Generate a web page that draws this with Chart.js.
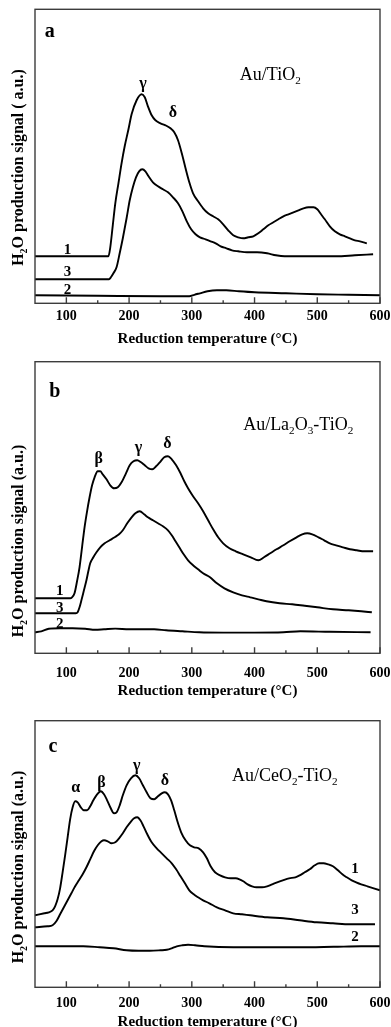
<!DOCTYPE html>
<html><head><meta charset="utf-8">
<script src="https://cdn.jsdelivr.net/npm/chart.js@4.4.0/dist/chart.umd.min.js"></script>
<style>
html,body{margin:0;padding:0;background:#fff;overflow:hidden;width:391px;height:1027px;}
canvas{position:absolute;left:0;display:block;}
</style></head><body>
<canvas id="ca" width="391" height="348" style="top:0px;width:391px;height:348px"></canvas>
<canvas id="cb" width="391" height="352" style="top:348px;width:391px;height:352px"></canvas>
<canvas id="cc" width="391" height="331" style="top:700px;width:391px;height:331px"></canvas>
<script>
// ---------- tick labels ----------
const temperatureTicks = [100, 200, 300, 400, 500, 600];
const minorTicks = [150, 250, 350, 450, 550];

// ---------- panel a : Au/TiO2 ----------
const aT1 = [50,167,170,174,178,183,188,193,199,204,212,220,225,230,236,242,250,258,266,272,278,284,290,296,302,310,318,326,334,342,350,358,366,374,382,390,398,406,414,422,430,438,446,454,462,470,478,486,494,500,506,512,520,528,536,544,552,560,568,579];
const aV1 = [47,47,56,78,100,120,140,157,174,189,203,209,206,197,188,183,180,178,175,171,163,150,135,121,110,102,95,90,87,84,79,73,68,66,65,66,67,70,74,78,81,84,87,89,91,93,95,96,96,94,89,84,77,72,69,67,65,63,62,60];
const aT3 = [50,168,171,175,180,185,190,196,201,206,211,216,221,226,231,238,246,254,262,270,278,285,292,299,306,313,322,330,338,346,355,364,374,388,404,420,434,448,470,500,530,560,589];
const aV3 = [24,24,26,30,36,50,65,85,103,116,126,132,134,132,127,121,117,114,111,106,100,92,82,74,69,66,64,62,60,57,55,53,52,51,51,50,48,47,47,47,47,48,49];
const aT2 = [50,150,250,296,304,313,325,340,355,375,400,450,500,550,600];
const aV2 = [8,7.5,7,7,8.5,10,12,13,13,12,11,10,9,8.5,8];

// ---------- panel b : Au/La2O3-TiO2 ----------
const bT1 = [50,106,109,113,117,121,125,129,133,137,141,145,150,154,158,164,170,176,182,188,195,201,207,213,219,225,231,237,243,249,256,262,268,275,282,288,294,302,310,318,326,334,342,350,360,370,382,394,406,415,425,435,446,456,467,476,484,492,502,511,520,530,541,552,563,575,589];
const bV1 = [55,55,56,60,72,86,106,126,142,156,168,176,182,182,179,174,168,165,166,171,180,188,192,193,191,188,185,184,187,191,196,197,194,188,180,172,165,157,150,142,133,124,116,110,105,102,99,96,93,96,100,104,108,112,116,119,120,119,116,113,110,108,106,104,103,102,102];
const bT3 = [50,115,118,121,124,128,132,135,138,143,148,154,161,169,177,184,190,197,204,210,217,224,230,238,246,254,262,268,274,280,287,294,302,310,318,329,340,352,366,380,393,406,419,440,460,480,500,525,550,570,587];
const bV3 = [40,40,41,46,53,63,73,82,90,96,101,106,110,113,116,119,123,130,136,140,142,139,136,133,130,127,123,118,112,106,99,93,88,84,80,76,70,65,61,58,56,54,52,50,49,47.5,46,44,43,42,41];
const bT2 = [50,60,72,90,110,130,146,160,178,200,221,240,259,285,312,350,400,446,473,520,585];
const bV2 = [21,22,24.5,25,25,24.5,23.5,24,24.7,24,24,24,23,22,21,20.7,20.7,21,22,21.5,21];

// ---------- panel c : Au/CeO2-TiO2 ----------
const cT1 = [50,65,72,78,82,86,90,94,98,102,106,110,114,118,123,128,133,138,143,149,155,160,165,170,176,180,185,190,196,203,210,216,222,228,234,240,246,252,257,262,267,272,277,283,290,297,304,311,318,324,330,337,345,353,362,370,376,382,389,396,403,412,420,428,436,445,455,465,472,480,488,496,503,510,517,525,533,540,547,555,562,570,580,590,600];
const cV1 = [72,74,75,77,81,88,99,115,132,150,168,180,186,185,180,177,177,181,187,193,196,193,187,180,174,175,182,192,202,209,212,209,202,195,189,188,191,194,195,193,187,177,166,155,147,142,140,139,135,129,121,115,112,110,109,109,108,106,103,101,100,100,101,103,105,107,109,110,112,115,118,122,124,124,123,121,117,113,110,107,105,103,101,99,97];
const cT3 = [50,70,78,84,90,96,102,108,114,120,126,132,138,144,150,156,160,166,172,178,184,190,196,202,208,213,218,223,229,236,244,252,260,268,275,282,289,296,303,310,318,328,340,353,366,380,393,420,446,472,499,525,552,575,592];
const cV3 = [60,61,62,66,73,80,87,94,101,107,113,120,128,136,142,146,147,146,144,145,149,154,160,165,169,170,167,161,153,145,139,134,129,124,118,111,104,97,93,90,87,84,80,77,74,73,72,70,69,67,65,64,63,63,63];
const cT2 = [50,100,127,153,175,196,215,233,250,260,268,276,285,294,305,320,366,420,470,526,570,600];
const cV2 = [41,41,41,40,39,37,36.5,36.5,37,37.5,39,41,42,42.5,42,41,40,40,40,40.5,41,41];

// ---------- text ----------
const xTitle = 'Reduction temperature (°C)';
const yTitleA = [['H',''],['2','sub'],['O production signal ( a.u.)','']];
const yTitleBC = [['H',''],['2','sub'],['O production signal (a.u.)','']];

const FONT = "'Liberation Serif','Times New Roman',serif";

function pts(t, v){ return t.map((x,i)=>({x:x, y:v[i]})); }

function drawRich(ctx, parts, x, y, size, weight, align){
  const sz = p => p[1]==='sub' ? size*0.62 : size;
  const widths = parts.map(p => { ctx.font = `${weight} ${sz(p)}px ${FONT}`; return ctx.measureText(p[0]).width; });
  const total = widths.reduce((a,b)=>a+b,0);
  let cx = align==='left' ? x : (align==='right' ? x-total : x-total/2);
  ctx.textAlign='left'; ctx.textBaseline='middle'; ctx.fillStyle='#000';
  parts.forEach((p,i)=>{
    ctx.font = `${weight} ${sz(p)}px ${FONT}`;
    ctx.fillText(p[0], cx, y + (p[1]==='sub' ? size*0.32 : 0));
    cx += widths[i];
  });
}

const decor = {
  id:'decor',
  afterDatasetsDraw(chart){
    const cfg = chart.options.plugins.decor;
    const ctx = chart.ctx, a = chart.chartArea;
    const xs = chart.scales.x, ys = chart.scales.y;
    ctx.save();
    ctx.strokeStyle = '#3c3c3c'; ctx.lineWidth = 1.4;
    ctx.strokeRect(a.left, a.top, a.right-a.left, a.bottom-a.top);
    ctx.beginPath();
    temperatureTicks.forEach(v=>{ const px = xs.getPixelForValue(v); ctx.moveTo(px, a.bottom); ctx.lineTo(px, a.bottom-6); });
    minorTicks.forEach(v=>{ const px = xs.getPixelForValue(v); ctx.moveTo(px, a.bottom); ctx.lineTo(px, a.bottom-3); });
    ctx.stroke();
    ctx.save();
    ctx.translate(cfg.yTitleX, cfg.yTitleY);
    ctx.rotate(-Math.PI/2);
    drawRich(ctx, cfg.yTitle, 0, 0, 16, 'bold', 'center');
    ctx.restore();
    cfg.notes.forEach(n=>{
      drawRich(ctx, n.parts, xs.getPixelForValue(n.x), ys.getPixelForValue(n.y), n.size, n.weight, n.align || 'center');
    });
    ctx.restore();
  }
};

function makeChart(id, series, yMax, padTop, chartBottom, canvasH, tickPad, decorCfg){
  const ctx = document.getElementById(id).getContext('2d');
  return new Chart(ctx, {
    type:'line',
    data:{ datasets: series.map(s=>({
      data: pts(s[0], s[1]), borderColor:'#000', borderWidth:1.9, pointRadius:0,
      fill:false, cubicInterpolationMode:'monotone'
    }))},
    options:{
      responsive:false, animation:false, events:[],
      layout:{ padding:{ left:35, right:11, top:padTop, bottom:0 } },
      plugins:{ legend:{display:false}, tooltip:{enabled:false}, decor: decorCfg },
      scales:{
        x:{ type:'linear', min:50, max:600,
            grid:{display:false, drawTicks:false}, border:{display:false},
            afterBuildTicks: sc => { sc.ticks = temperatureTicks.map(v=>({value:v})); },
            afterFit: sc => { sc.height = canvasH - chartBottom; sc.paddingRight = 0; sc.paddingLeft = 0; },
            ticks:{ color:'#000', padding: tickPad, autoSkip:false, maxRotation:0,
                    font:{ family:FONT, size:14, weight:'bold', lineHeight:1.2 } },
            title:{ display:true, text:xTitle, color:'#000', padding:{top:0,bottom:0},
                    font:{ family:FONT, size:15, weight:'bold', lineHeight:1.2 } } },
        y:{ display:false, min:0, max:yMax }
      }
    },
    plugins:[decor]
  });
}

makeChart('ca', [[aT1,aV1],[aT3,aV3],[aT2,aV2]], 294, 9.3, 303.3, 348, 5, {
  yTitle: yTitleA, yTitleX: 19, yTitleY: 167.5,
  notes: [
    {parts:[['a','']], x:73.6, y:271, size:20, weight:'bold'},
    {parts:[['Au/TiO',''],['2','sub']], x:376.6, y:228, size:18, weight:'normal', align:'left'},
    {parts:[['γ','']], x:222, y:219, size:16, weight:'bold'},
    {parts:[['δ','']], x:270, y:190, size:16, weight:'bold'},
    {parts:[['1','']], x:102, y:53, size:15, weight:'bold'},
    {parts:[['3','']], x:102, y:31, size:15, weight:'bold'},
    {parts:[['2','']], x:102, y:13, size:15, weight:'bold'}
  ]
});

makeChart('cb', [[bT1,bV1],[bT3,bV3],[bT2,bV2]], 291.6, 13.7, 305.3, 352, 11.6, {
  yTitle: yTitleBC, yTitleX: 19, yTitleY: 193,
  notes: [
    {parts:[['b','']], x:81.6, y:261.6, size:20, weight:'bold'},
    {parts:[['Au/La',''],['2','sub'],['O',''],['3','sub'],['-TiO',''],['2','sub']], x:381.8, y:228, size:18, weight:'normal', align:'left'},
    {parts:[['β','']], x:151.6, y:194, size:16, weight:'bold'},
    {parts:[['γ','']], x:215, y:205, size:16, weight:'bold'},
    {parts:[['δ','']], x:261, y:209, size:16, weight:'bold'},
    {parts:[['1','']], x:89.6, y:62, size:15, weight:'bold'},
    {parts:[['3','']], x:89.6, y:45.5, size:15, weight:'bold'},
    {parts:[['2','']], x:89.6, y:29.5, size:15, weight:'bold'}
  ]
});

makeChart('cc', [[cT1,cV1],[cT3,cV3],[cT2,cV2]], 266.6, 20.7, 287.3, 331, 7.6, {
  yTitle: yTitleBC, yTitleX: 19, yTitleY: 167,
  notes: [
    {parts:[['c','']], x:78.4, y:240.6, size:20, weight:'bold'},
    {parts:[['Au/CeO',''],['2','sub'],['-TiO',''],['2','sub']], x:364, y:210.6, size:18, weight:'normal', align:'left'},
    {parts:[['α','']], x:115, y:199, size:16, weight:'bold'},
    {parts:[['β','']], x:156, y:204, size:16, weight:'bold'},
    {parts:[['γ','']], x:212, y:221, size:16, weight:'bold'},
    {parts:[['δ','']], x:257, y:206.6, size:16, weight:'bold'},
    {parts:[['1','']], x:560, y:118, size:15, weight:'bold'},
    {parts:[['3','']], x:560, y:77, size:15, weight:'bold'},
    {parts:[['2','']], x:560, y:50.6, size:15, weight:'bold'}
  ]
});
</script>
</body></html>
